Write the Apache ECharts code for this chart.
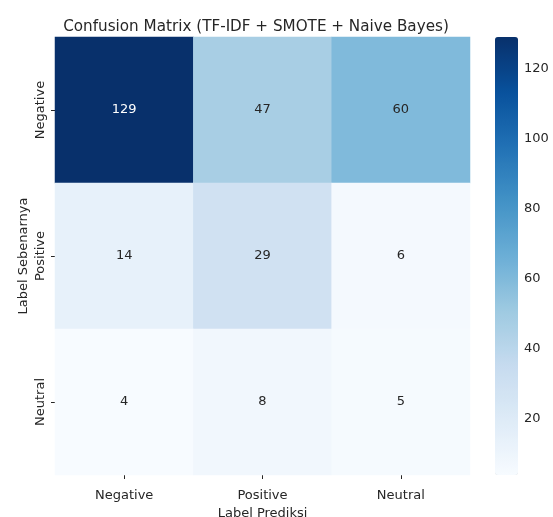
<!DOCTYPE html>
<html>
<head>
<meta charset="utf-8">
<script src="https://cdn.jsdelivr.net/npm/echarts@6/dist/echarts.min.js"></script>
<style>
  html, body { margin: 0; padding: 0; background: #fff; }
  #main { width: 553px; height: 517px; }
</style>
</head>
<body>
<div id="main"></div>
<script>
// label kelas (x = prediksi, y = sebenarnya)
var labels = ['Negative', 'Positive', 'Neutral'];
// baris = label sebenarnya, kolom = label prediksi
var rowNegative = [129, 47, 60];
var rowPositive = [14, 29, 6];
var rowNeutral = [4, 8, 5];
var colorbarTicks = [20, 40, 60, 80, 100, 120];

var matrix = [rowNegative, rowPositive, rowNeutral];
var data = [];
matrix.forEach(function (row, i) {
    row.forEach(function (v, j) {
        data.push([j, i, v]);
    });
});
var all = [].concat(rowNegative, rowPositive, rowNeutral);
var vmin = Math.min.apply(null, all);
var vmax = Math.max.apply(null, all);

// matplotlib "Blues"
var blues = ['#f7fbff', '#deebf7', '#c6dbef', '#9ecae1', '#6baed6',
             '#4292c6', '#2171b5', '#08519c', '#08306b'];

var font = 'DejaVu Sans';
var txt = '#262626';

var myChart = echarts.init(document.getElementById('main'));
myChart.setOption({
    animation: false,
    textStyle: { fontFamily: font },
    title: {
        text: 'Confusion Matrix (TF-IDF + SMOTE + Naive Bayes)',
        left: 251,
        textAlign: 'center',
        top: 15,
        textStyle: { fontFamily: font, fontSize: 15.2, fontWeight: 'normal', color: txt }
    },
    grid: [
        { left: 55, top: 37, width: 415, height: 438, containLabel: false, outerBoundsMode: 'none' },
        { left: 495, top: 37, width: 23, height: 438, containLabel: false, outerBoundsMode: 'none' }
    ],
    xAxis: [
        {
            type: 'category',
            data: labels,
            gridIndex: 0,
            name: 'Label Prediksi',
            nameLocation: 'middle',
            nameGap: 31,
            nameTextStyle: { fontSize: 13, color: txt },
            axisLine: { show: false },
            axisTick: { show: true, alignWithLabel: true, length: 4, lineStyle: { color: txt } },
            axisLabel: { fontSize: 13, color: txt, margin: 14 },
            splitLine: { show: false }
        },
        { type: 'value', gridIndex: 1, show: false }
    ],
    yAxis: [
        {
            type: 'category',
            data: labels,
            gridIndex: 0,
            inverse: true,
            name: 'Label Sebenarnya',
            nameLocation: 'middle',
            nameGap: 25,
            nameMoveOverlap: false,
            nameTextStyle: { fontSize: 13, color: txt },
            axisLine: { show: false },
            axisTick: { show: true, alignWithLabel: true, length: 4, lineStyle: { color: txt } },
            axisLabel: { fontSize: 13, color: txt, rotate: 90, margin: 8 },
            splitLine: { show: false }
        },
        {
            type: 'value',
            gridIndex: 1,
            position: 'right',
            min: vmin,
            max: vmax,
            axisLine: { show: false },
            axisTick: { show: true, length: 3, customValues: colorbarTicks, lineStyle: { color: txt } },
            axisLabel: { fontSize: 13, color: txt, margin: 6, customValues: colorbarTicks },
            splitLine: { show: false }
        }
    ],
    visualMap: {
        type: 'continuous',
        min: vmin,
        max: vmax,
        seriesIndex: 0,
        calculable: false,
        orient: 'vertical',
        left: 495,
        top: 37,
        padding: 0,
        itemWidth: 23,
        itemHeight: 438,
        text: null,
        inRange: { color: blues }
    },
    series: [{
        type: 'heatmap',
        xAxisIndex: 0,
        yAxisIndex: 0,
        data: data.map(function (d) {
            return {
                value: d,
                // teks putih pada sel gelap
                label: { color: d[2] > 90 ? '#ffffff' : txt }
            };
        }),
        label: {
            show: true,
            fontSize: 13,
            fontFamily: font,
            formatter: function (p) { return p.value[2]; }
        },
        itemStyle: { borderWidth: 0 },
        emphasis: { disabled: true }
    }]
});
</script>
</body>
</html>
